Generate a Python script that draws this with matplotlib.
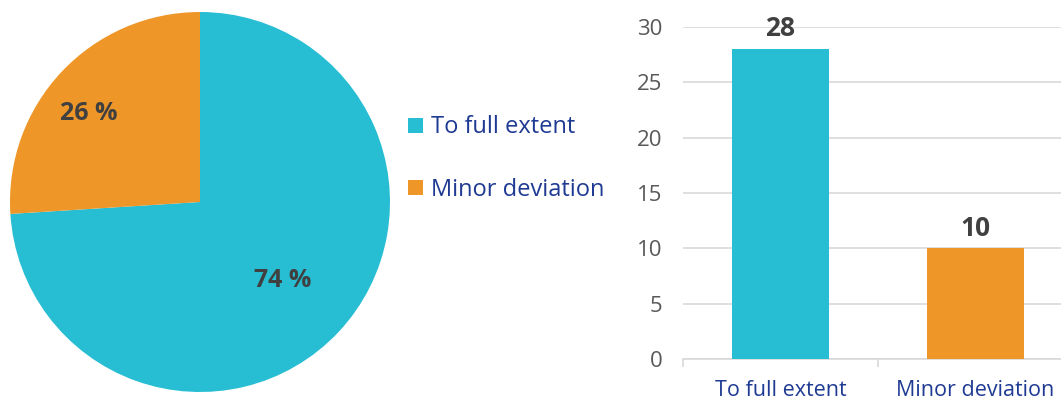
import matplotlib
matplotlib.use("Agg")
import matplotlib.pyplot as plt
import numpy as np

categories = ["To full extent", "Minor deviation"]
counts = [28, 10]
percents = [74, 26]
colors = ["#27BDD3", "#EE9628"]
yticks = [0, 5, 10, 15, 20, 25, 30]

plt.rcParams['font.family'] = ['Open Sans', 'DejaVu Sans']
W, H = 1061, 401
fig = plt.figure(figsize=(W/100, H/100), dpi=100)

# Pie
cx, cy, r = 200, 202, 190
axp = fig.add_axes([(cx-r)/W, (H-cy-r)/H, 2*r/W, 2*r/H])
wedges, _ = axp.pie(percents, colors=colors, startangle=90, counterclock=False,
                    radius=1.0)
axp.set_xlim(-1, 1); axp.set_ylim(-1, 1); axp.set_aspect('equal'); axp.axis('off')
dists = [0.6, 0.75]
ang_shift = [0, 4.7]
for w, p, d, s in zip(wedges, percents, dists, ang_shift):
    ang = np.deg2rad((w.theta1 + w.theta2) / 2 + s)
    axp.text(d*np.cos(ang), d*np.sin(ang), f"{p} %", ha='center', va='center',
             fontsize=18, fontweight='bold', color='#404040')

leg = fig.legend(wedges, categories, loc='upper left', bbox_to_anchor=(399/W, 1-106/H),
                 frameon=False, fontsize=17, handlelength=0.6, handleheight=0.6,
                 handletextpad=0.35, labelspacing=1.62, borderaxespad=0)
for t in leg.get_texts():
    t.set_color('#1F3A93')

# Bar
x0, x1 = 683, 1073
yb, yt = 359, 27
axb = fig.add_axes([x0/W, (H-yb)/H, (x1-x0)/W, (yb-yt)/H])
xs = np.arange(len(categories))
axb.bar(xs, counts, width=0.5, color=colors, zorder=3)
axb.set_xlim(-0.5, 1.5)
axb.set_ylim(0, 30)
axb.set_yticks(yticks)
axb.yaxis.grid(True, color='#D9D9D9', linewidth=1.2, zorder=0)
for s in ['top', 'right', 'left']:
    axb.spines[s].set_visible(False)
axb.spines['bottom'].set_color('#D9D9D9')
axb.spines['bottom'].set_linewidth(1.2)
axb.tick_params(axis='y', length=0, labelsize=16, labelcolor='#595959', pad=15)
axb.set_xticks([-0.5, 0.5, 1.5])
axb.set_xticklabels([])
axb.tick_params(axis='x', which='major', length=6, color='#D9D9D9', width=1.2)
axb.set_xticks(xs, minor=True)
axb.set_xticklabels(categories, minor=True)
axb.tick_params(axis='x', which='minor', length=0, labelsize=15.5, labelcolor='#1F3A93', pad=15)
for x, v in zip(xs, counts):
    axb.text(x, v + 0.6, str(v), ha='center', va='bottom', fontsize=19,
             fontweight='bold', color='#404040')

fig.savefig("out.png", dpi=100)
